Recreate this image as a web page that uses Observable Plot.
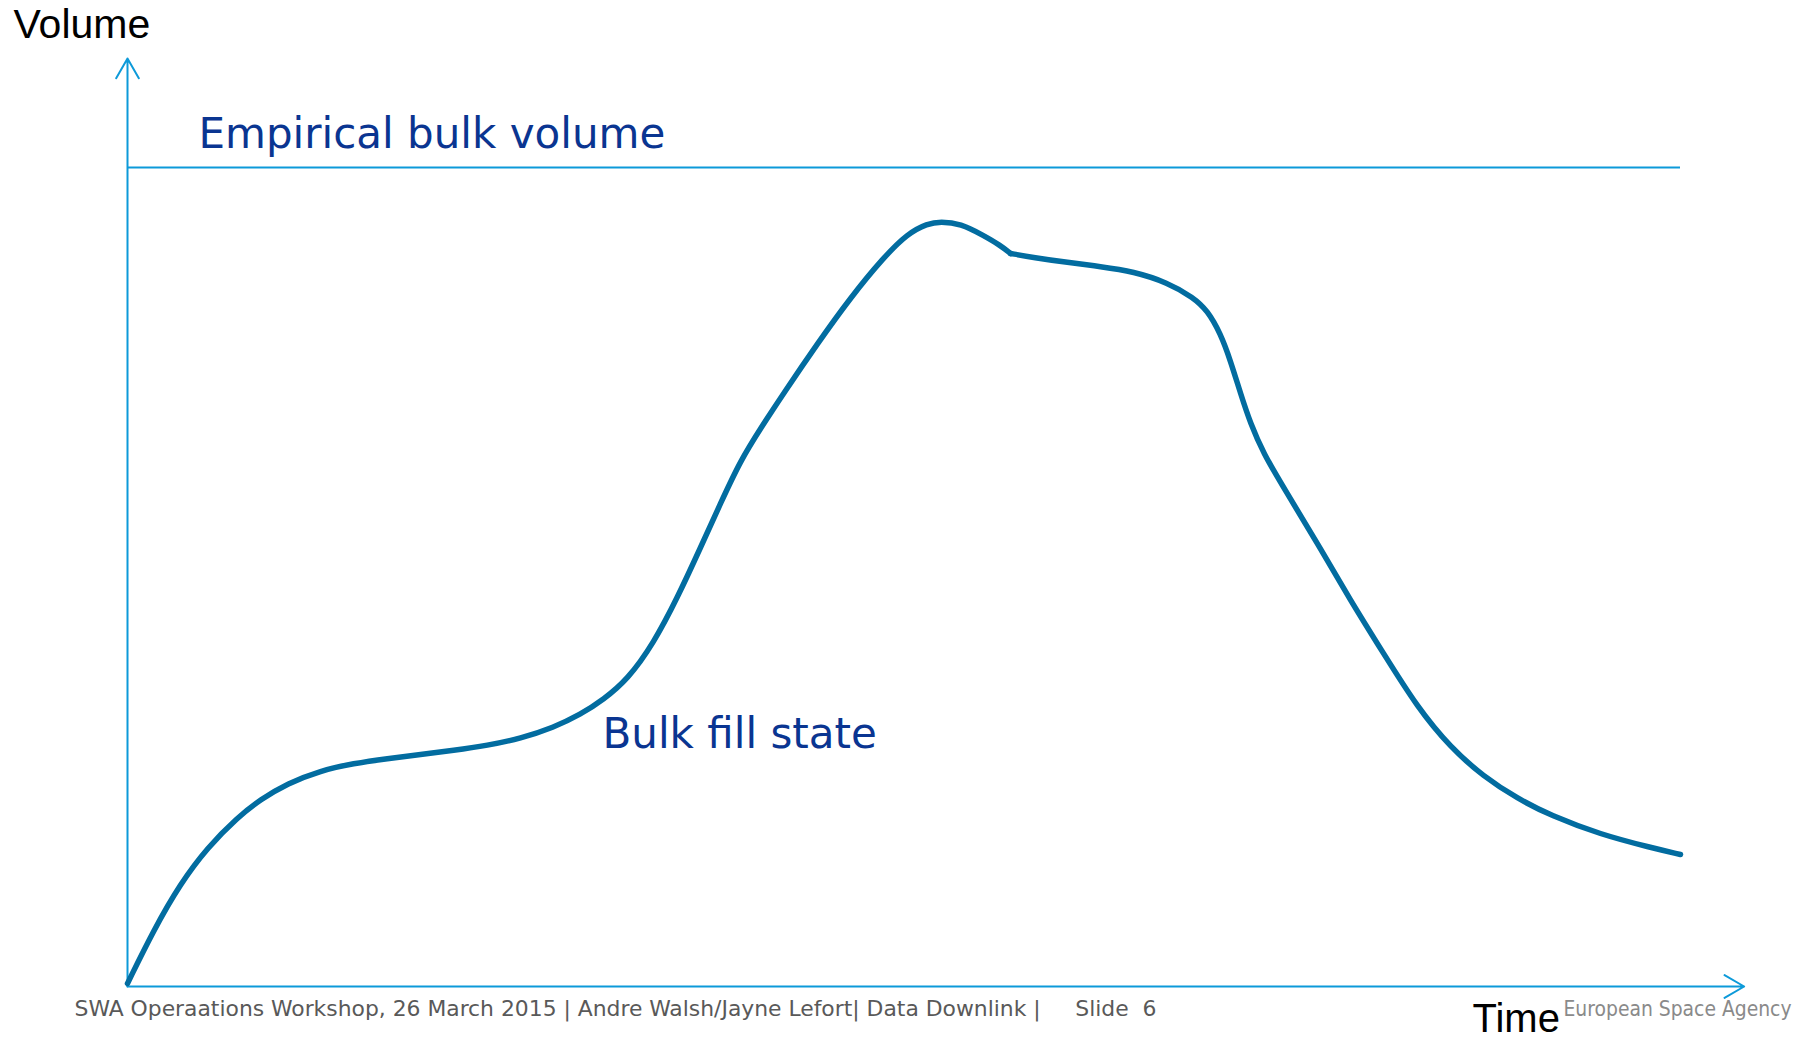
<!DOCTYPE html>
<html><head><meta charset="utf-8">
<script src="https://cdn.jsdelivr.net/npm/d3@7"></script>
<script src="https://cdn.jsdelivr.net/npm/@observablehq/plot@0.6"></script>
<style>
html,body{margin:0;padding:0;background:#fff;overflow:hidden;}
svg text{white-space:pre;}
</style></head><body><div id="chart"></div>
<script>
// Time (0–100) and bulk fill state volume (empirical bulk volume = 100)
const time = [0, 1.67, 3.41, 5.15, 7.08, 8.56, 10.30, 12.43, 14.55, 16.74, 18.87, 20.99, 23.18, 25.31, 27.43, 29.17, 30.65, 32.20, 33.87, 35.42, 36.90, 38.18, 39.47, 40.76, 42.24, 44.43, 46.56, 48.68, 50.23, 51.51, 52.35, 53.64, 55.12, 56.21, 56.86,
  58.34, 60.53, 62.65, 64.78, 66.97, 68.64, 69.54, 70.38, 71.02, 71.67, 72.31, 73.15, 74.44, 76.63, 78.75, 80.88, 83.06, 85.19, 87.31, 89.50, 91.63, 94.85, 98.07, 100];
const fill = [0.37, 6.84, 12.58, 16.97, 20.63, 22.83, 24.79, 26.37, 27.23, 27.84, 28.33, 28.82, 29.43, 30.28, 31.62, 33.21, 35.04, 37.48, 41.88, 47.50, 53.60, 58.97, 64.22, 68.13, 72.41, 78.51, 84.13, 89.01, 91.94, 93.16, 93.41, 93.16, 91.70, 90.48, 89.50,
  89.01, 88.40, 87.91, 87.30, 85.96, 84.13, 82.54, 79.73, 76.43, 72.41, 68.74, 65.08, 60.93, 54.09, 47.13, 40.66, 34.07, 29.18, 25.64, 22.95, 20.88, 18.56, 16.97, 16.12];
const kinkIndex = 34; // corner where the rise ends and the plateau begins
const bulkVolume = [100];
const timeSpan = [0, 100];
const axisArrows = [
  {x1: 0, y1: 0, x2: 0, y2: 113.3},
  {x1: 0, y1: 0, x2: 104.1, y2: 0}
];
const yLabel = "Volume";
const xLabel = "Time";
const volumeLabel = "Empirical bulk volume";
const fillLabel = "Bulk fill state";
const footerText = "SWA Operaations Workshop, 26 March 2015 | Andre Walsh/Jayne Lefort| Data Downlink |     Slide  6";
const agencyText = "European Space Agency";

const data = [];
time.forEach((t, i) => {
  if (i <= kinkIndex) data.push({t, v: fill[i], seg: "rise"});
  if (i >= kinkIndex) data.push({t, v: fill[i], seg: "fall"});
});

const axisBlue = "#0d9ad9";
const curveBlue = "#026ca0";
const labelBlue = "#0a3591";

const txt = (s, o) => Plot.text([s], {text: d => d, frameAnchor: "top-left", textAnchor: "start", lineAnchor: "bottom", ...o});

const svg = Plot.plot({
  width: 1807,
  height: 1039,
  margin: 0,
  x: {domain: [0, 100], range: [127, 1680], axis: null},
  y: {domain: [0, 100], range: [986, 167], axis: null},
  style: {background: "#fff"},
  marks: [
    Plot.ruleY(bulkVolume, {x1: timeSpan[0], x2: timeSpan[1], stroke: axisBlue, strokeWidth: 2}),
    Plot.arrow(axisArrows, {x1: "x1", y1: "y1", x2: "x2", y2: "y2", stroke: axisBlue, strokeWidth: 2, headLength: 17, headAngle: 60}),
    Plot.line(data, {x: "t", y: "v", z: "seg", curve: "basis", stroke: curveBlue, strokeWidth: 5.5, strokeLinejoin: "round"}),
    txt(yLabel, {dx: 13, dy: 37, fontFamily: "Liberation Sans, Arial, sans-serif", fontSize: 41, fill: "#000"}),
    txt(volumeLabel, {dx: 198, dy: 147, fontFamily: "DejaVu Sans, Verdana, sans-serif", fontSize: 42, fill: labelBlue}),
    txt(fillLabel, {dx: 602, dy: 747, fontFamily: "DejaVu Sans, Verdana, sans-serif", fontSize: 42, fill: labelBlue}),
    txt(footerText, {dx: 74, dy: 1015, fontFamily: "DejaVu Sans Condensed, DejaVu Sans, sans-serif", fontSize: 22, fill: "#595959"}),
    txt(xLabel, {dx: 1472, dy: 1031, fontFamily: "Liberation Sans, Arial, sans-serif", fontSize: 40, fill: "#000"}),
    txt(agencyText, {dx: 1563, dy: 1015, fontFamily: "DejaVu Sans Condensed, DejaVu Sans, sans-serif", fontSize: 22, fill: "#8a8a8a"})
  ]
});

d3.select(svg).selectAll("text").each(function() {
  const s = this.textContent;
  if (s === footerText) { this.setAttribute("textLength", 1082); this.setAttribute("lengthAdjust", "spacingAndGlyphs"); }
  if (s === agencyText) { this.setAttribute("textLength", 228); this.setAttribute("lengthAdjust", "spacingAndGlyphs"); }
});

document.getElementById("chart").appendChild(svg);
</script>
</body></html>
